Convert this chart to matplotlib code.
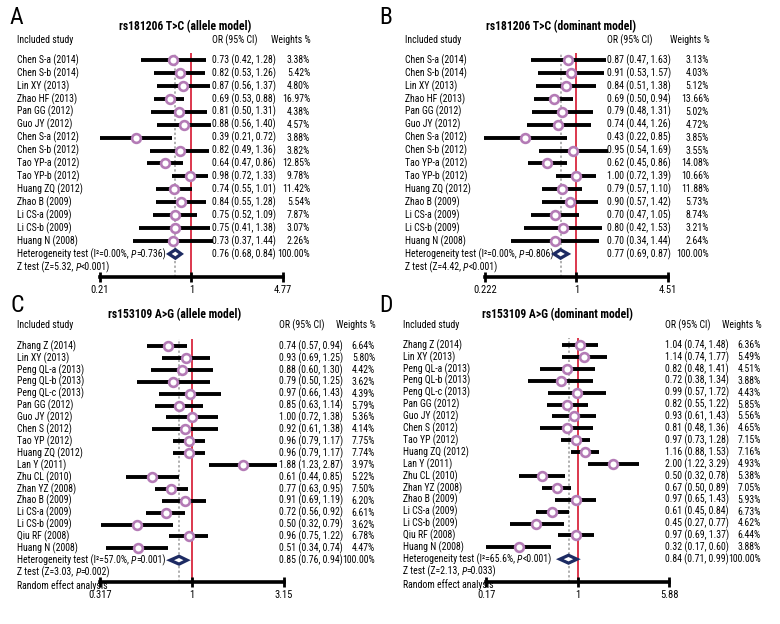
import os
import numpy as np
import matplotlib
matplotlib.use("Agg")
import matplotlib.pyplot as plt
import matplotlib.transforms as mtransforms
from matplotlib.patches import Polygon
from matplotlib.ticker import NullLocator
from matplotlib import font_manager

# ================= fonts =================
FONT, STRETCH, FONTFILE = "Liberation Sans", "normal", ""
for fam, st in [("Liberation Sans Narrow", "normal"), ("Roboto Condensed", "normal"),
                ("Noto Sans", "condensed"), ("Open Sans", "condensed"),
                ("Roboto", "condensed"), ("DejaVu Sans", "condensed")]:
    try:
        f = font_manager.findfont(font_manager.FontProperties(family=fam, stretch=st),
                                  fallback_to_default=False)
    except Exception:
        continue
    name = os.path.basename(f).lower()
    if "narrow" in name or "cond" in name:
        FONT, STRETCH, FONTFILE = fam, st, name
        break

plt.rcParams['font.family'] = [FONT, 'DejaVu Sans']
plt.rcParams['font.stretch'] = STRETCH

MARK_COLOR = "#b47bb6"
RED = "#d9283f"
NAVY = "#1d2b63"

# ================= data =================
studies_181206 = ['Chen S-a (2014)', 'Chen S-b (2014)', 'Lin XY (2013)', 'Zhao HF (2013)',
                  'Pan GG (2012)', 'Guo JY (2012)', 'Chen S-a (2012)', 'Chen S-b (2012)',
                  'Tao YP-a (2012)', 'Tao YP-b (2012)', 'Huang ZQ (2012)', 'Zhao B (2009)',
                  'Li CS-a (2009)', 'Li CS-b (2009)', 'Huang N (2008)']

or_A = [0.73, 0.82, 0.87, 0.69, 0.81, 0.88, 0.39, 0.82, 0.64, 0.98, 0.74, 0.84, 0.75, 0.75, 0.73]
lo_A = [0.42, 0.53, 0.56, 0.53, 0.50, 0.56, 0.21, 0.49, 0.47, 0.72, 0.55, 0.55, 0.52, 0.41, 0.37]
hi_A = [1.28, 1.26, 1.37, 0.88, 1.31, 1.40, 0.72, 1.36, 0.86, 1.33, 1.01, 1.28, 1.09, 1.38, 1.44]
w_A = [3.38, 5.42, 4.80, 16.97, 4.38, 4.57, 3.88, 3.82, 12.85, 9.78, 11.42, 5.54, 7.87, 3.07, 2.26]
pool_A = (0.76, 0.68, 0.84)
het_A = ("0.00%", "=0.736")
z_A = ("5.32", "<0.001")
ticks_A = ["0.21", "1", "4.77"]

or_B = [0.87, 0.91, 0.84, 0.69, 0.79, 0.74, 0.43, 0.95, 0.62, 1.00, 0.79, 0.90, 0.70, 0.80, 0.70]
lo_B = [0.47, 0.53, 0.51, 0.50, 0.48, 0.44, 0.22, 0.54, 0.45, 0.72, 0.57, 0.57, 0.47, 0.42, 0.34]
hi_B = [1.63, 1.57, 1.38, 0.94, 1.31, 1.26, 0.85, 1.69, 0.86, 1.39, 1.10, 1.42, 1.05, 1.53, 1.44]
w_B = [3.13, 4.03, 5.12, 13.66, 5.02, 4.72, 3.85, 3.55, 14.08, 10.66, 11.88, 5.73, 8.74, 3.21, 2.64]
pool_B = (0.77, 0.69, 0.87)
het_B = ("0.00%", "=0.806")
z_B = ("4.42", "<0.001")
ticks_B = ["0.222", "1", "4.51"]

studies_153109 = ['Zhang Z (2014)', 'Lin XY (2013)', 'Peng QL-a (2013)', 'Peng QL-b (2013)',
                  'Peng QL-c (2013)', 'Pan GG (2012)', 'Guo JY (2012)', 'Chen S (2012)',
                  'Tao YP (2012)', 'Huang ZQ (2012)', 'Lan Y (2011)', 'Zhu CL (2010)',
                  'Zhan YZ (2008)', 'Zhao B (2009)', 'Li CS-a (2009)', 'Li CS-b (2009)',
                  'Qiu RF (2008)', 'Huang N (2008)']

or_C = [0.74, 0.93, 0.88, 0.79, 0.97, 0.85, 1.00, 0.92, 0.96, 0.96, 1.88, 0.61, 0.77, 0.91, 0.72, 0.50, 0.96, 0.51]
lo_C = [0.57, 0.69, 0.60, 0.50, 0.66, 0.63, 0.72, 0.61, 0.79, 0.79, 1.23, 0.44, 0.63, 0.69, 0.56, 0.32, 0.75, 0.34]
hi_C = [0.94, 1.25, 1.30, 1.25, 1.43, 1.14, 1.38, 1.38, 1.17, 1.17, 2.87, 0.85, 0.95, 1.19, 0.92, 0.79, 1.22, 0.74]
w_C = [6.64, 5.80, 4.42, 3.62, 4.39, 5.79, 5.36, 4.14, 7.75, 7.74, 3.97, 5.22, 7.50, 6.20, 6.61, 3.62, 6.78, 4.47]
pool_C = (0.85, 0.76, 0.94)
het_C = ("57.0%", "=0.001")
z_C = ("3.03", "=0.002")
ticks_C = ["0.317", "1", "3.15"]

or_D = [1.04, 1.14, 0.82, 0.72, 0.99, 0.82, 0.93, 0.81, 0.97, 1.16, 2.00, 0.50, 0.67, 0.97, 0.61, 0.45, 0.97, 0.32]
lo_D = [0.74, 0.74, 0.48, 0.38, 0.57, 0.55, 0.61, 0.48, 0.73, 0.88, 1.22, 0.32, 0.50, 0.65, 0.45, 0.27, 0.69, 0.17]
hi_D = [1.48, 1.77, 1.41, 1.34, 1.72, 1.22, 1.43, 1.36, 1.28, 1.53, 3.29, 0.78, 0.89, 1.43, 0.84, 0.77, 1.37, 0.60]
w_D = [6.36, 5.49, 4.51, 3.88, 4.43, 5.85, 5.56, 4.65, 7.15, 7.16, 4.93, 5.38, 7.05, 5.93, 6.73, 4.62, 6.44, 3.88]
pool_D = (0.84, 0.71, 0.99)
het_D = ("65.6%", "<0.001")
z_D = ("2.13", "=0.033")
ticks_D = ["0.17", "1", "5.88"]

W, H = 780, 624
NARROW = FONTFILE != ""
FS = 7.0 if NARROW else 6.0


def fx(px):
    return px / W


def fy(py):
    return 1 - py / H


def italic_p_line(ax, x, y, trans, head, tail):
    """text + italic P + text, chained so that the boxes stay one line high"""
    t1 = ax.text(x, y, head, transform=trans, va='center', ha='left', fontsize=FS)
    t2 = ax.annotate("P", xy=(1, 0), xycoords=t1, va='bottom', ha='left',
                     fontsize=FS, fontstyle='italic')
    ax.annotate(tail, xy=(1, 0), xycoords=t2, va='bottom', ha='left', fontsize=FS)


def draw_panel(fig, lay, label, title, studies, ors, los, his, wts, pool, het, zt, ticks, random=False):
    n = len(studies)
    first, dy = lay['y_first'], lay['dy']
    y_top = first - 7
    ax = fig.add_axes([fx(lay['x0']), fy(lay['y_axis']), fx(lay['x1']) - fx(lay['x0']),
                       (lay['y_axis'] - y_top) / H])
    ax.set_xscale('log')
    tick_vals = [float(t) for t in ticks]
    ax.set_xlim(tick_vals[0], tick_vals[-1])
    ax.set_ylim((lay['y_axis'] - first) / dy, (y_top - first) / dy)
    ax.patch.set_visible(False)

    # reference lines
    ax.axvline(1, color=RED, lw=1.3, zorder=1)
    ax.axvline(pool[0], color='#9a9a9a', lw=1.1, ls=(0, (1.5, 1.5)), zorder=1)

    # studies
    y = np.arange(n)
    ax.hlines(y, los, his, color='black', lw=2.8, zorder=2, clip_on=False)
    ax.plot(ors, y, 'o', ms=6.3, mfc='white', mec=MARK_COLOR, mew=1.9, zorder=3, clip_on=False)

    # pooled diamond
    est, plo, phi = pool
    dia = Polygon([(plo, n), (est, n - 0.33), (phi, n), (est, n + 0.33)], closed=True,
                  facecolor='white', edgecolor=NAVY, lw=2.3, zorder=6, clip_on=False)
    ax.add_patch(dia)

    # axis styling
    for s in ['left', 'right', 'top']:
        ax.spines[s].set_visible(False)
    ax.spines['bottom'].set_linewidth(2.6)
    ax.set_yticks([])
    ax.set_xticks(tick_vals)
    ax.set_xticklabels(ticks)
    ax.xaxis.set_minor_locator(NullLocator())
    ax.tick_params(axis='x', direction='inout', length=7, width=2.0, pad=2, labelsize=FS + 0.6)

    trans = mtransforms.blended_transform_factory(fig.transFigure, ax.transData)
    for i in range(n):
        ax.text(fx(lay['x_study']), i, studies[i], transform=trans, va='center', ha='left', fontsize=FS)
        ax.text(fx(lay['x_or']), i, "%.2f (%.2f, %.2f)" % (ors[i], los[i], his[i]),
                transform=trans, va='center', ha='left', fontsize=FS)
        ax.text(fx(lay['x_w']), i, "%.2f%%" % wts[i], transform=trans, va='center', ha='right', fontsize=FS)
    italic_p_line(ax, fx(lay['x_study']), n, trans,
                  "Heterogeneity test (I\u00b2=%s, " % het[0], het[1] + ")")
    ax.text(fx(lay['x_or']), n, "%.2f (%.2f, %.2f)" % pool, transform=trans, va='center', ha='left', fontsize=FS)
    ax.text(fx(lay['x_w']), n, "100.00%", transform=trans, va='center', ha='right', fontsize=FS)
    italic_p_line(ax, fx(lay['x_study']), n + 1, trans, "Z test (Z=%s, " % zt[0], zt[1] + ")")
    if random:
        ax.text(fx(lay['x_study']), n + 2.1, "Random effect analysis",
                transform=trans, va='center', ha='left', fontsize=FS)

    # headers
    fig.text(fx(lay['x_lab']), fy(lay['y_lab']), label, fontsize=17, ha='left', va='center')
    fig.text(fx(lay['x_title']), fy(lay['y_title']), title, fontsize=8.4, fontweight='bold',
             ha='center', va='center')
    fig.text(fx(lay['x_study']), fy(lay['y_head']), "Included study", fontsize=FS, ha='left', va='center')
    fig.text(fx(lay['x_or']), fy(lay['y_head']), "OR (95% CI)", fontsize=FS, ha='left', va='center')
    fig.text(fx(lay['x_w'] + 1), fy(lay['y_head']), "Weights %", fontsize=FS, ha='right', va='center')
    return ax


fig = plt.figure(figsize=(W / 100, H / 100), dpi=100)

lay_A = dict(x_lab=10, y_lab=17, x_title=185, y_title=27, x_study=17, y_head=40, x_or=212, x_w=310,
             x0=100, x1=283, y_first=60, dy=12.93, y_axis=277)
lay_B = dict(x_lab=379, y_lab=17, x_title=561, y_title=27, x_study=405, y_head=40, x_or=607, x_w=709,
             x0=485, x1=668, y_first=60, dy=12.93, y_axis=277)
lay_C = dict(x_lab=10, y_lab=306, x_title=175, y_title=315, x_study=17, y_head=325, x_or=279, x_w=375,
             x0=100, x1=284, y_first=346, dy=11.9, y_axis=582)
lay_D = dict(x_lab=379, y_lab=306, x_title=557, y_title=315, x_study=403, y_head=325, x_or=665, x_w=761,
             x0=486, x1=669, y_first=345, dy=11.9, y_axis=582)

draw_panel(fig, lay_A, "A", "rs181206 T>C (allele model)", studies_181206,
           or_A, lo_A, hi_A, w_A, pool_A, het_A, z_A, ticks_A)
draw_panel(fig, lay_B, "B", "rs181206 T>C (dominant model)", studies_181206,
           or_B, lo_B, hi_B, w_B, pool_B, het_B, z_B, ticks_B)
draw_panel(fig, lay_C, "C", "rs153109 A>G (allele model)", studies_153109,
           or_C, lo_C, hi_C, w_C, pool_C, het_C, z_C, ticks_C, random=True)
draw_panel(fig, lay_D, "D", "rs153109 A>G (dominant model)", studies_153109,
           or_D, lo_D, hi_D, w_D, pool_D, het_D, z_D, ticks_D, random=True)

fig.savefig("out.png", dpi=100)
